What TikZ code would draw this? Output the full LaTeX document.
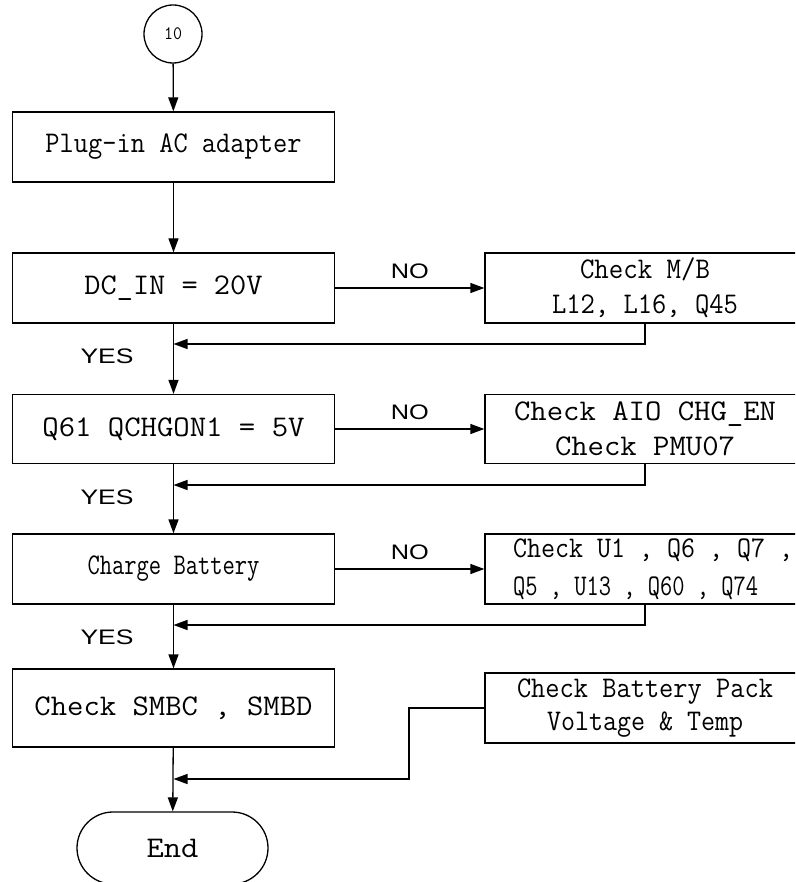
\documentclass[tikz,border=0pt]{standalone}
\usepackage{fontspec}
\newfontfamily\uisans{Liberation Sans}
\usepackage{graphicx}
\usetikzlibrary{arrows.meta,shapes.misc}
\newcommand{\mt}[2]{\resizebox{#1pt}{\height}{\fontsize{30}{34}\selectfont\ttfamily #2}}
\newcommand{\st}[2]{\resizebox{#1pt}{\height}{\fontsize{21}{24}\selectfont\uisans #2}}
\begin{document}
\begin{tikzpicture}[x=1pt,y=-1pt,line width=1.3pt,
  box/.style={draw,minimum width=322pt,minimum height=70pt,inner sep=0pt,align=center},
  sidebox/.style={draw,minimum width=320pt,minimum height=70pt,inner sep=0pt,align=center,font=\fontsize{30}{35}\selectfont},
  flow/.style={-{Triangle[length=14pt,width=10pt]}},
  lbl/.style={inner sep=0pt}]
\useasboundingbox (0,0) rectangle (795,882);
\clip (0,0) rectangle (795,882);
% main column
\node[draw,circle,minimum size=58pt,inner sep=0pt] (c10) at (173,34)
  {\resizebox{18pt}{\height}{\fontsize{19}{20}\selectfont\ttfamily 10}};
\node[box] (b1) at (173.5,147) {\mt{256}{Plug-in AC adapter}};
\node[box] (b2) at (173.5,288) {\mt{178}{DC\_IN = 20V}};
\node[box,minimum height=69pt] (b3) at (173.5,429) {\mt{262}{Q61 QCHGON1 = 5V}};
\node[box] (b4) at (173.5,569) {\mt{172}{Charge Battery}};
\node[box,minimum height=78pt] (b5) at (173.5,708) {\mt{278}{Check SMBC , SMBD}};
\node[draw,rounded rectangle,minimum width=191pt,minimum height=72pt,inner sep=0pt] (end) at (172.5,848) {\mt{52}{End}};
% side column
\node[sidebox] (r1) at (645,288) {\mt{130}{Check M/B}\\\mt{186}{L12, L16, Q45}};
\node[sidebox,minimum height=69pt] (r2) at (645,429) {\mt{262}{Check AIO CHG\_EN}\\\mt{180}{Check PMU07}};
\node[sidebox,align=left,font=\fontsize{30}{38}\selectfont] (r3) at (645,569) {\hspace*{16pt}\mt{280}{Check U1 , Q6 , Q7 ,}\\\hspace*{16pt}\mt{245}{Q5 , U13 , Q60 , Q74}};
\node[sidebox,font=\fontsize{30}{33}\selectfont] (r4) at (645,708) {\mt{256}{Check Battery Pack}\\\mt{196}{Voltage \& Temp}};
% junctions
\coordinate (j1) at (173.5,344);
\coordinate (j2) at (173.5,485);
\coordinate (j3) at (173.5,625);
\coordinate (j4) at (173.5,779);
\coordinate (bend) at (409,779);
% labels
\node[lbl] (y1) at (107,356) {\st{53}{YES}};
\node[lbl] (y2) at (107,497) {\st{53}{YES}};
\node[lbl] (y3) at (107,637) {\st{53}{YES}};
% connectors
\draw[flow] (c10) -- (b1);
\draw[flow] (b1) -- (b2);
\draw[flow] (b2) -- node[above=9pt,lbl] (n1) {\st{38}{NO}} (r1);
\draw[flow] (r1.south) |- (j1);
\draw[flow] (b2) -- (b3);
\draw[flow] (b3) -- node[above=9pt,lbl] (n2) {\st{38}{NO}} (r2);
\draw[flow] (r2.south) |- (j2);
\draw[flow] (b3) -- (b4);
\draw[flow] (b4) -- node[above=9pt,lbl] (n3) {\st{38}{NO}} (r3);
\draw[flow] (r3.south) |- (j3);
\draw[flow] (b4) -- (b5);
\draw[flow] (b5) -- (end);
\draw[flow] (r4.west) -| (bend) -- (j4);
\end{tikzpicture}
\end{document}
